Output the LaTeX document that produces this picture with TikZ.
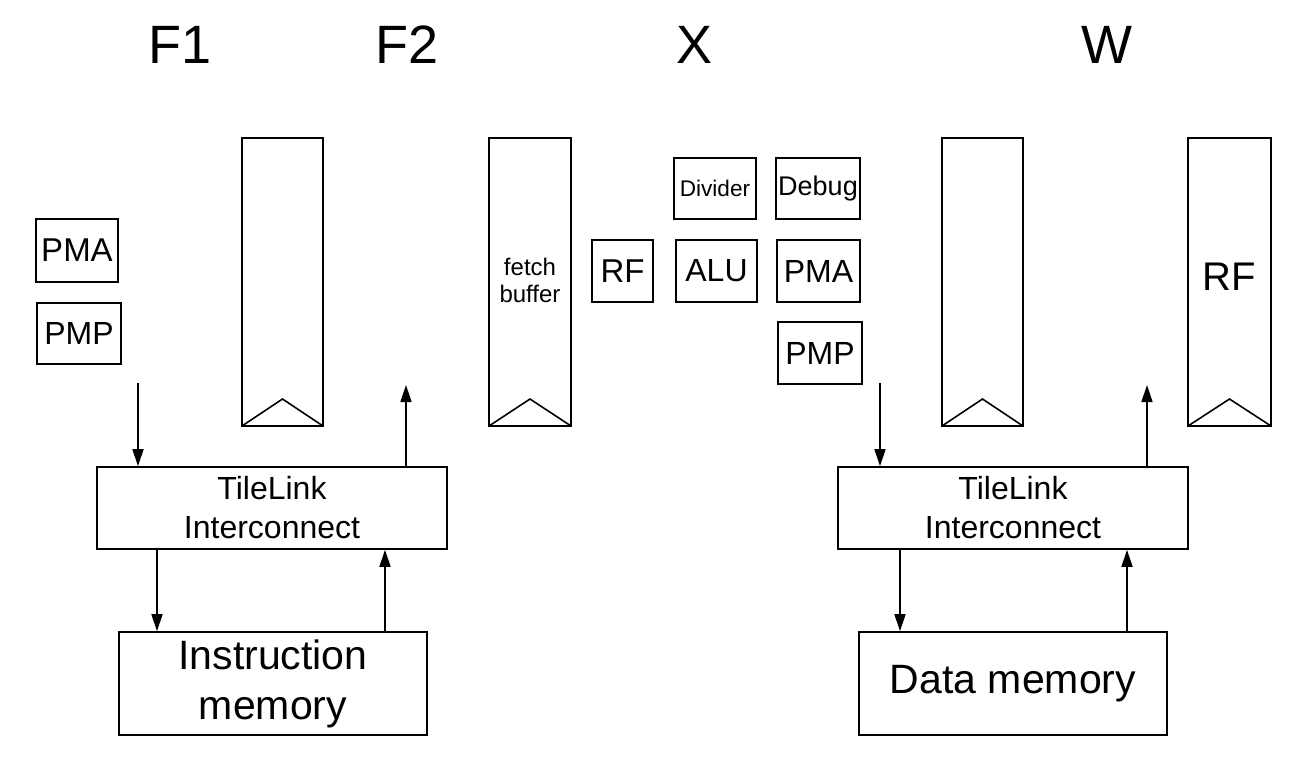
\documentclass[tikz,border=0pt]{standalone}
\usepackage{fontspec}
\setmainfont{Liberation Sans}
\usetikzlibrary{arrows.meta}
\begin{document}
\begin{tikzpicture}[x=1pt,y=-1pt,
  box/.style={draw,line width=1.6pt,inner sep=0pt},
  conn/.style={line width=1.6pt,-{Triangle[length=17pt,width=11pt]}},
  fs/.style 2 args={font=\fontsize{#1}{#2}\selectfont}]
\useasboundingbox (0,0) rectangle (1302,758);
% titles
\node[fs={54}{60},anchor=base] (tF1) at (180,63) {F1};
\node[fs={54}{60},anchor=base] (tF2) at (407,63) {F2};
\node[fs={54}{60},anchor=base] (tX) at (695,63) {X};
\node[fs={54}{60},anchor=base] (tW) at (1107,63) {W};
% pipeline registers
\foreach \n/\xa/\xb in {r1/242/323, r2/489/571, r3/942/1023, r4/1188/1271}{
  \draw[line width=1.6pt] (\xa,138) rectangle (\xb,426);
  \draw[line width=1.6pt] (\xa,426) -- ({(\xa+\xb)/2},399) -- (\xb,426);
  \coordinate (\n) at ({(\xa+\xb)/2},282);
}
\node[fs={24}{27},align=center] (fb) at (530,280) {fetch\\buffer};
\node[fs={40}{44}] (rfw) at (1229,277) {RF};
% small boxes
\node[box,fs={33}{36},minimum width=82pt,minimum height=63pt] (pmaL) at (77,250.5) {PMA};
\node[box,fs={32}{36},minimum width=84pt,minimum height=61pt] (pmpL) at (79,333.5) {PMP};
\node[box,fs={33}{36},minimum width=61pt,minimum height=62pt] (rfx) at (622.5,271) {RF};
\node[box,fs={32}{36},minimum width=81pt,minimum height=62pt] (alu) at (716.5,271) {ALU};
\node[box,fs={32}{36},minimum width=83pt,minimum height=62pt] (pmaR) at (818.5,271) {PMA};
\node[box,fs={22.6}{26},minimum width=82pt,minimum height=61pt] (div) at (715,188.5) {Divider};
\node[box,fs={27}{30},minimum width=84pt,minimum height=61pt] (dbg) at (818,188.5) {Debug};
\node[box,fs={32}{36},minimum width=84pt,minimum height=62pt] (pmpR) at (820,353) {PMP};
% interconnects and memories
\node[box,fs={32}{39},align=center,minimum width=350pt,minimum height=82pt] (tlL) at (272,508) {TileLink\\Interconnect};
\node[box,fs={41}{50},align=center,minimum width=308pt,minimum height=103pt] (imem) at (273,683.5) {Instruction\\memory};
\node[box,fs={32}{39},align=center,minimum width=350pt,minimum height=82pt] (tlR) at (1013,508) {TileLink\\Interconnect};
\node[box,fs={41}{50},minimum width=308pt,minimum height=103pt] (dmem) at (1013,683.5) {Data memory};
% free ends and columns
\coordinate (aL1) at (138,383);
\coordinate (aL2) at (406,385);
\coordinate (aR1) at (880,383);
\coordinate (aR2) at (1147,385);
\coordinate (cL1) at (157,0);
\coordinate (cL2) at (385,0);
\coordinate (cR1) at (900,0);
\coordinate (cR2) at (1127,0);
% connectors
\draw[conn] (aL1) -- (aL1 |- tlL.north);
\draw[conn] (aL2 |- tlL.north) -- (aL2);
\draw[conn] (cL1 |- tlL.south) -- (cL1 |- imem.north);
\draw[conn] (cL2 |- imem.north) -- (cL2 |- tlL.south);
\draw[conn] (aR1) -- (aR1 |- tlR.north);
\draw[conn] (aR2 |- tlR.north) -- (aR2);
\draw[conn] (cR1 |- tlR.south) -- (cR1 |- dmem.north);
\draw[conn] (cR2 |- dmem.north) -- (cR2 |- tlR.south);
\end{tikzpicture}
\end{document}
